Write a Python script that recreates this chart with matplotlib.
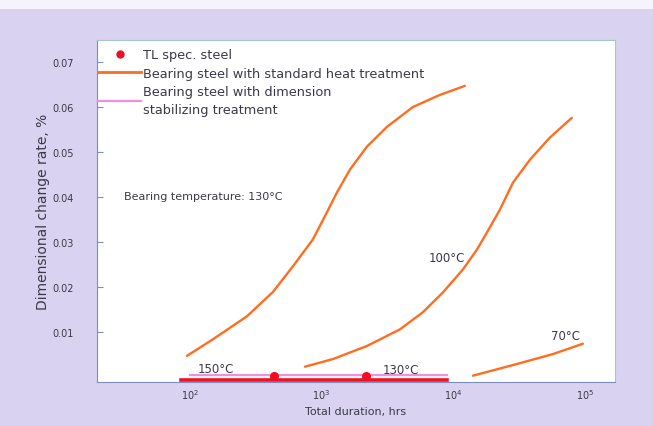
import numpy as np
import matplotlib
matplotlib.use('Agg')
import matplotlib.pyplot as plt
from matplotlib.lines import Line2D
from matplotlib.patches import Rectangle

# curve data (log10 of hours, change rate %)
temp150_logx = [1.977, 2.175, 2.433, 2.630, 2.782, 2.934, 3.040, 3.116, 3.215,
                3.344, 3.496, 3.693, 3.898, 4.088]
temp150_y = [0.0047, 0.0084, 0.0135, 0.0189, 0.0246, 0.0306, 0.0366, 0.0410, 0.0461,
             0.0512, 0.0556, 0.0600, 0.0627, 0.0647]

temp100_logx = [2.873, 3.086, 3.344, 3.595, 3.769, 3.921, 4.073, 4.179, 4.255,
                4.354, 4.453, 4.582, 4.733, 4.900]
temp100_y = [0.0023, 0.0040, 0.0069, 0.0106, 0.0144, 0.0188, 0.0239, 0.0283, 0.0321,
             0.0372, 0.0432, 0.0483, 0.0532, 0.0576]

temp70_logx = [4.149, 4.483, 4.756, 4.984]
temp70_y = [0.0003, 0.0029, 0.0051, 0.0074]

tl_line_logx = [1.93, 3.95]
tl_line_y = [-0.0006, -0.0006]
tl_points_logx = [2.64, 3.34]
tl_points_y = [0.0003, 0.0003]

stab_logx = [2.0, 3.95]
stab_y = [0.0005, 0.0005]

yticks = [0.01, 0.02, 0.03, 0.04, 0.05, 0.06, 0.07]
ytick_labels = ['0.01', '0.02', '0.03', '0.04', '0.05', '0.06', '0.07']
xticks = [1e2, 1e3, 1e4, 1e5]
xtick_labels = ['$10^2$', '$10^3$', '$10^4$', '$10^5$']

BG = '#d9d2f0'
ORANGE = '#ff6d1f'
PINK = '#f08ee0'
RED = '#f01020'
TXT = '#3a3a48'

plt.rcParams['font.family'] = ['DejaVu Sans']

W, H = 653, 427
fig = plt.figure(figsize=(W / 100, H / 100), dpi=100, facecolor=BG)
fig.patches.append(Rectangle((0, 1 - 10 / H), 1, 10 / H, transform=fig.transFigure,
                             facecolor='#f6f4fb', edgecolor='none'))

ax = fig.add_axes([97 / W, 1 - 383 / H, (615 - 97) / W, (383 - 41) / H])
ax.set_xscale('log')
ax.set_xlim(10 ** 1.294, 10 ** 5.228)
ax.set_ylim(-0.0011, 0.0749)

def xs(logx):
    return 10 ** np.array(logx)

for lx, ly in [(temp150_logx, temp150_y), (temp100_logx, temp100_y), (temp70_logx, temp70_y)]:
    ax.plot(xs(lx), ly, color=ORANGE, lw=1.7, solid_capstyle='round', solid_joinstyle='round')
ax.plot(xs(stab_logx), stab_y, color=PINK, lw=1.6, clip_on=False)
ax.plot(xs(tl_line_logx), tl_line_y, color=RED, lw=2.6, clip_on=False)
ax.plot(xs(tl_points_logx), tl_points_y, 'o', color=RED, ms=5.5, clip_on=False)

lbl = dict(fontsize=8.5, color=TXT, ha='center', va='center')
ax.text(10 ** 2.2, 0.0020, '150°C', **lbl)
ax.text(10 ** 3.6, 0.0017, '130°C', **lbl)
ax.text(10 ** 3.95, 0.0265, '100°C', **lbl)
ax.text(10 ** 4.85, 0.0093, '70°C', **lbl)
ax.text(10 ** 1.5, 0.0403, 'Bearing temperature: 130°C', fontsize=8, color=TXT,
        ha='left', va='center')

ax.set_yticks(yticks)
ax.set_yticklabels(ytick_labels)
ax.set_xticks(xticks)
ax.set_xticklabels(xtick_labels)
ax.xaxis.set_minor_locator(matplotlib.ticker.NullLocator())
ax.tick_params(axis='y', direction='in', length=4, pad=17, labelsize=7, colors='#8090b8',
               labelcolor=TXT)
ax.tick_params(axis='x', direction='in', length=0, pad=4, labelsize=7, labelcolor=TXT)

for side in ['left', 'bottom']:
    ax.spines[side].set_color('#7d8cc0')
for side in ['top', 'right']:
    ax.spines[side].set_color('#a8c8c8')

ax.set_ylabel('Dimensional change rate, %', fontsize=10, color=TXT, labelpad=1)
ax.set_xlabel('Total duration, hrs', fontsize=8, color=TXT, labelpad=3)

handles = [
    Line2D([], [], marker='o', color=RED, linestyle='none', ms=5),
    Line2D([], [], color=ORANGE, lw=2),
    Line2D([], [], color=PINK, lw=1.6),
]
labels = ['TL spec. steel', 'Bearing steel with standard heat treatment',
          'Bearing steel with dimension\nstabilizing treatment']
leg = ax.legend(handles, labels, loc='upper left', bbox_to_anchor=(-0.01, 0.995),
                frameon=False, fontsize=9.3, handlelength=3.3, handletextpad=0.15,
                labelspacing=0.42, borderaxespad=0.3, borderpad=0.2)
for t in leg.get_texts():
    t.set_color(TXT)
    t.set_linespacing(1.45)

fig.savefig('out.png', dpi=100, facecolor=BG)
